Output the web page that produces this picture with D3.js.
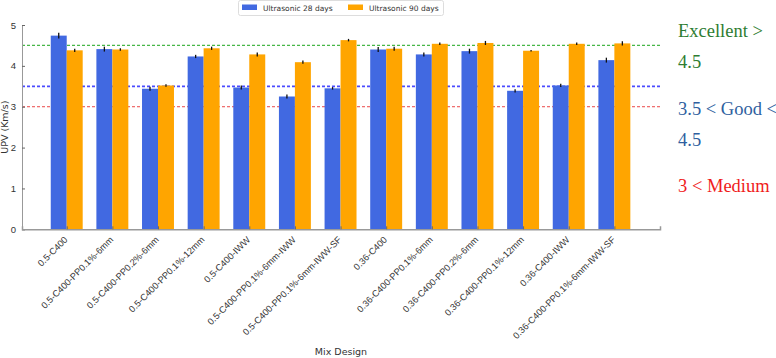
<!DOCTYPE html>
<html>
<head>
<meta charset="utf-8">
<script src="https://cdn.jsdelivr.net/npm/d3@7"></script>
<style>
  body { margin: 0; background: #fff; }
  svg { font-family: "DejaVu Sans", sans-serif; }
</style>
</head>
<body>
<div id="chart"></div>
<script>
// mix designs on the x axis
const mixes = [
    "0.5-C400", "0.5-C400-PP0.1%-6mm", "0.5-C400-PP0.2%-6mm", "0.5-C400-PP0.1%-12mm",
    "0.5-C400-IWW", "0.5-C400-PP0.1%-6mm-IWW", "0.5-C400-PP0.1%-6mm-IWW-SF",
    "0.36-C400", "0.36-C400-PP0.1%-6mm", "0.36-C400-PP0.2%-6mm", "0.36-C400-PP0.1%-12mm",
    "0.36-C400-IWW", "0.36-C400-PP0.1%-6mm-IWW-SF"
];
// UPV values (km/s)
const upv28 = [4.74, 4.41, 3.44, 4.23, 3.47, 3.25, 3.45, 4.40, 4.28, 4.36, 3.39, 3.52, 4.14];
const upv90 = [4.38, 4.40, 3.52, 4.43, 4.28, 4.09, 4.63, 4.42, 4.54, 4.56, 4.37, 4.54, 4.55];
const err28 = [0.07, 0.06, 0.05, 0.04, 0.05, 0.05, 0.03, 0.06, 0.05, 0.06, 0.04, 0.04, 0.06];
const err90 = [0.04, 0.03, 0.03, 0.04, 0.05, 0.04, 0.03, 0.05, 0.03, 0.05, 0.02, 0.03, 0.05];
const yTicks = [0, 1, 2, 3, 4, 5];
const seriesNames = ["Ultrasonic 28 days", "Ultrasonic 90 days"];
const seriesColors = ["#4169E1", "#FFA500"];
// quality thresholds
const limits = [
    {value: 4.5, color: "rgba(40,170,40,0.85)", width: 1.2},
    {value: 3.5, color: "rgba(30,30,255,0.8)", width: 1.8},
    {value: 3.0, color: "rgba(230,40,40,0.85)", width: 1.0}
];
const classLines = [
    {text: "Excellent >", color: "#2e7d32", y: 37},
    {text: "4.5", color: "#2e7d32", y: 68},
    {text: "3.5 < Good <", color: "#2f5fa0", y: 115},
    {text: "4.5", color: "#2f5fa0", y: 146},
    {text: "3 < Medium", color: "#f01c1c", y: 192}
];

const width = 776, height = 358;
const plot = {left: 22, right: 660, top: 25, bottom: 229.3};

const svg = d3.select("#chart").append("svg")
    .attr("width", width)
    .attr("height", height);

// scales
const x = d3.scaleLinear().domain([-0.98, 13.0]).range([plot.left, plot.right]);
const y = d3.scaleLinear().domain([0, 5]).range([plot.bottom, plot.top]);
const barW = x(0.35) - x(0);

// reference lines
limits.forEach(l => {
    svg.append("line")
        .attr("x1", plot.left).attr("x2", plot.right)
        .attr("y1", y(l.value)).attr("y2", y(l.value))
        .attr("stroke", l.color)
        .attr("stroke-width", l.width)
        .attr("stroke-dasharray", "3,2");
});

// bars
const series = [upv28, upv90];
const errs = [err28, err90];
series.forEach((vals, s) => {
    const offset = s === 0 ? -0.175 : 0.175;
    svg.append("g").selectAll("rect")
        .data(vals)
        .join("rect")
        .attr("x", (d, i) => x(i + offset) - barW / 2)
        .attr("y", d => y(d))
        .attr("width", barW)
        .attr("height", d => y(0) - y(d))
        .attr("fill", seriesColors[s]);

    // error bars
    svg.append("g").selectAll("line")
        .data(vals)
        .join("line")
        .attr("x1", (d, i) => x(i + offset))
        .attr("x2", (d, i) => x(i + offset))
        .attr("y1", (d, i) => y(d - errs[s][i]))
        .attr("y2", (d, i) => y(d + errs[s][i]))
        .attr("stroke", "#111")
        .attr("stroke-width", 1.3);
});

// axes
const yAxis = d3.axisLeft(y).tickValues(yTicks).tickFormat(d3.format("d")).tickSize(-3).tickPadding(6);
const gy = svg.append("g")
    .attr("transform", `translate(${plot.left},0)`)
    .call(yAxis);
gy.select(".domain").attr("stroke", "#999");
gy.selectAll(".tick line").attr("stroke", "#666");
gy.selectAll("text").attr("font-size", 9.5).attr("fill", "#333");

const xAxis = d3.axisBottom(x).tickValues(d3.range(mixes.length)).tickFormat(i => mixes[i]).tickSize(-3).tickPadding(0);
const gx = svg.append("g")
    .attr("transform", `translate(0,${plot.bottom})`)
    .call(xAxis);
gx.select(".domain").attr("stroke", "#999").attr("stroke-width", 1.5);
gx.selectAll(".tick line").attr("stroke", "#666");
gx.selectAll("text")
    .attr("font-size", 9.2)
    .attr("fill", "#333")
    .attr("text-anchor", "end")
    .attr("dy", 0)
    .attr("transform", "translate(1,11) rotate(-45)");

// axis titles
svg.append("text")
    .attr("transform", `translate(8,${(plot.top + plot.bottom) / 2}) rotate(-90)`)
    .attr("text-anchor", "middle")
    .attr("font-size", 9.5)
    .attr("fill", "#333")
    .text("UPV (Km/s)");

svg.append("text")
    .attr("x", (plot.left + plot.right) / 2)
    .attr("y", 355)
    .attr("text-anchor", "middle")
    .attr("font-size", 9.5)
    .attr("fill", "#333")
    .text("Mix Design");

// legend
const legend = svg.append("g");
legend.append("rect")
    .attr("x", 238.5).attr("y", 0.5)
    .attr("width", 205).attr("height", 15)
    .attr("rx", 2)
    .attr("fill", "#fff")
    .attr("stroke", "#ddd");
const legX = [242, 348];
seriesNames.forEach((n, i) => {
    legend.append("rect")
        .attr("x", legX[i]).attr("y", 4.5)
        .attr("width", 15).attr("height", 5.5)
        .attr("fill", seriesColors[i]);
    legend.append("text")
        .attr("x", legX[i] + 21).attr("y", 11)
        .attr("font-size", 7.5)
        .attr("fill", "#333")
        .text(n);
});

// quality class notes on the right
svg.append("g").selectAll("text")
    .data(classLines)
    .join("text")
    .attr("x", 678)
    .attr("y", d => d.y)
    .attr("font-family", "'Liberation Serif', 'Times New Roman', serif")
    .attr("font-size", 18.5)
    .attr("fill", d => d.color)
    .text(d => d.text);
</script>
</body>
</html>
